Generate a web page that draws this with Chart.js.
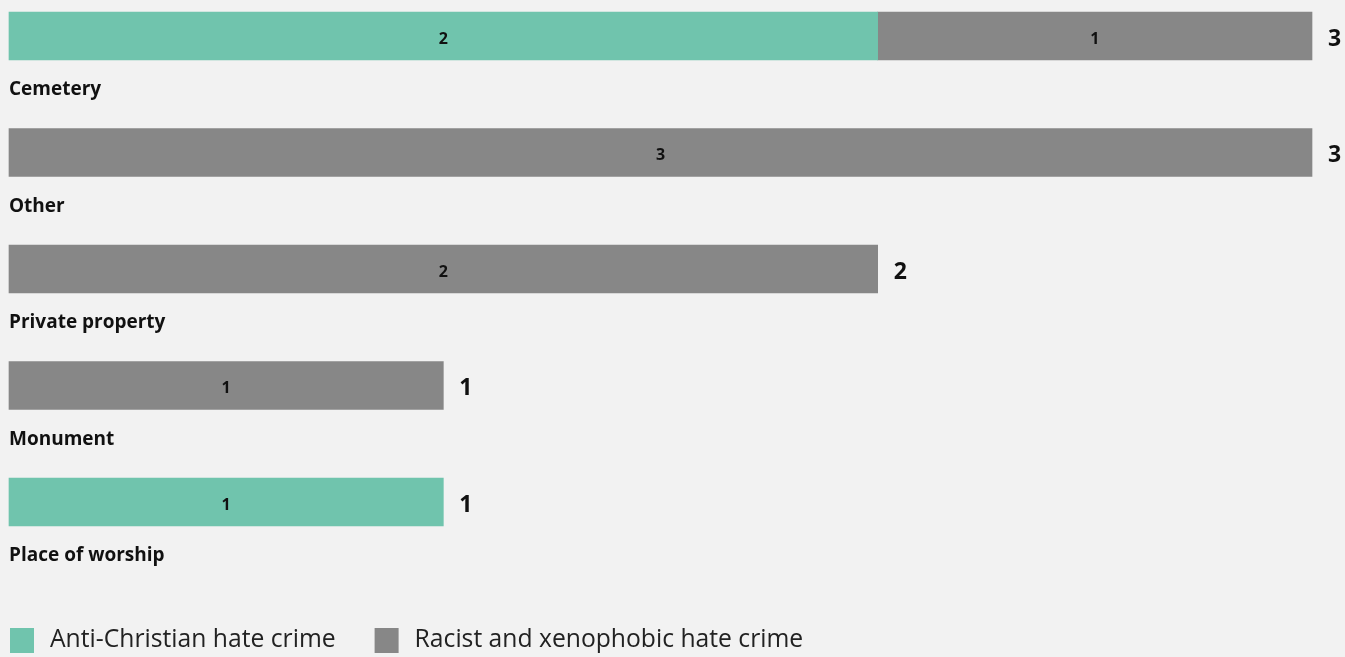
<!DOCTYPE html>
<html lang="en">
<head>
  <meta charset="UTF-8">
  <title>Hate crime by location</title>
  <script src="https://cdn.jsdelivr.net/npm/chart.js"></script>
  <style>
    body {
      margin: 0;
      background-color: #f2f2f2;
      font-family: 'Open Sans', sans-serif;
    }
    .wrap {
      width: 1345px;
      height: 657px;
    }
  </style>
</head>
<body>
  <div class="wrap">
    <canvas id="chart"></canvas>
  </div>

  <script>
    const categories = ['Cemetery', 'Other', 'Private property', 'Monument', 'Place of worship'];
    const antiChristian = [2, 0, 0, 0, 1];
    const racist = [1, 3, 2, 1, 0];
    const seriesNames = ['Anti-Christian hate crime', 'Racist and xenophobic hate crime'];
    const seriesColors = ['#70c4ad', '#878787'];

    const FONT = "'Open Sans', sans-serif";

    // labels inside segments, category names under bars, totals on the right
    const barText = {
      id: 'barText',
      afterDatasetsDraw(chart) {
        const ctx = chart.ctx;
        const xs = chart.scales.x;
        ctx.save();
        ctx.fillStyle = '#111';
        chart.data.datasets.forEach((ds, di) => {
          chart.getDatasetMeta(di).data.forEach((bar, i) => {
            if (!ds.data[i]) return;
            ctx.font = 'bold 16px ' + FONT;
            ctx.textAlign = 'center';
            ctx.textBaseline = 'middle';
            ctx.fillText(ds.data[i], (bar.x + bar.base) / 2, bar.y + 3);
          });
        });
        categories.forEach((cat, i) => {
          const y = chart.scales.y.getPixelForValue(i);
          const total = antiChristian[i] + racist[i];
          ctx.font = 'bold 19px ' + FONT;
          ctx.textAlign = 'left';
          ctx.textBaseline = 'middle';
          ctx.fillText(cat, xs.left, y + 54);
          ctx.font = 'bold 23px ' + FONT;
          ctx.fillText(total, xs.getPixelForValue(total) + 16, y + 3);
        });
        ctx.restore();
      }
    };

    const bottomLegend = {
      id: 'bottomLegend',
      afterDraw(chart) {
        const ctx = chart.ctx;
        ctx.save();
        ctx.font = '24.7px ' + FONT;
        ctx.textBaseline = 'middle';
        ctx.textAlign = 'left';
        let x = 10;
        const y = 640;
        chart.data.datasets.forEach(ds => {
          ctx.fillStyle = ds.backgroundColor;
          ctx.fillRect(x, y - 12, 24, 25);
          ctx.fillStyle = '#222';
          ctx.fillText(ds.label, x + 40, y);
          x += 40 + ctx.measureText(ds.label).width + 39;
        });
        ctx.restore();
      }
    };

    new Chart(document.getElementById('chart'), {
      type: 'bar',
      data: {
        labels: categories,
        datasets: [
          { label: seriesNames[0], data: antiChristian.map(v => v || null), backgroundColor: seriesColors[0], clip: false },
          { label: seriesNames[1], data: racist.map(v => v || null), backgroundColor: seriesColors[1], clip: false }
        ]
      },
      options: {
        indexAxis: 'y',
        responsive: true,
        maintainAspectRatio: false,
        animation: false,
        barThickness: 48,
        layout: { padding: { top: 36, left: 9, right: 33, bottom: 155 } },
        scales: {
          x: { stacked: true, min: 0, max: 3, display: false },
          y: { stacked: true, offset: false, display: false }
        },
        plugins: {
          legend: { display: false },
          tooltip: { enabled: false }
        }
      },
      plugins: [barText, bottomLegend]
    });
  </script>
</body>
</html>
